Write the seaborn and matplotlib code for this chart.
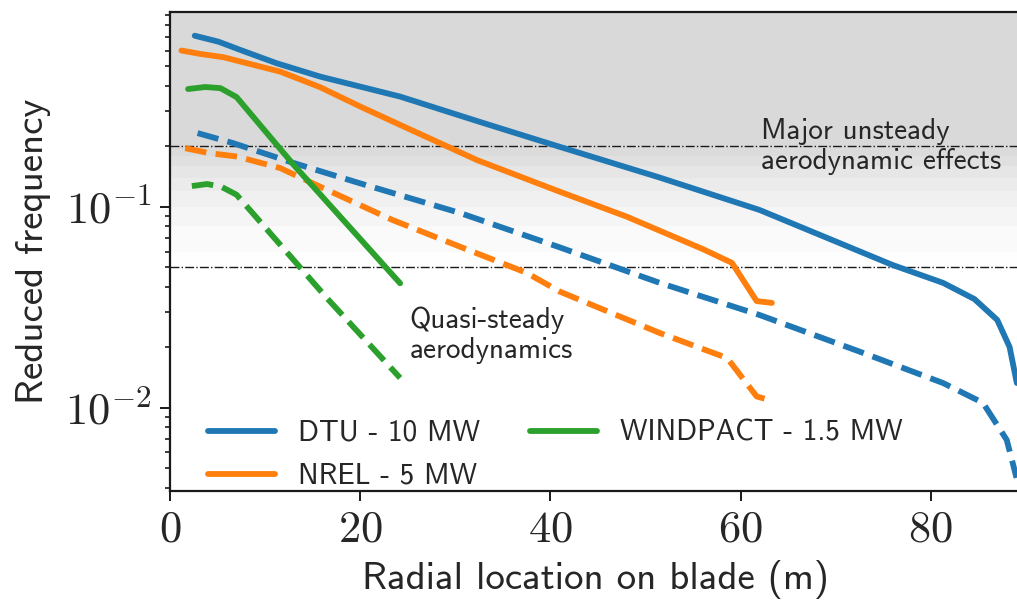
import numpy as np
import matplotlib
matplotlib.use("Agg")
import matplotlib.pyplot as plt
import seaborn as sns
from matplotlib.ticker import FuncFormatter, FixedLocator, LogLocator, NullFormatter

# Radial stations (m) and reduced frequency, solid = case A, dashed = case B
dtu_r = [2.6, 5.1, 7.4, 11.2, 15.8, 24.2, 32.9, 41.0, 51.5, 62.0, 76.0, 81.3, 84.6, 87.0, 88.3, 89.06]
dtu_k = [0.711, 0.664, 0.604, 0.519, 0.445, 0.354, 0.262, 0.199, 0.140, 0.0966, 0.0514, 0.0419, 0.0348, 0.0274, 0.0201, 0.0133]
dtu_r2 = [2.9, 6.6, 12.9, 20.0, 30.5, 41.0, 51.5, 62.0, 72.6, 81.3, 85.5, 88.0, 89.03]
dtu_k2 = [0.233, 0.208, 0.166, 0.131, 0.0933, 0.0629, 0.0419, 0.0290, 0.0190, 0.0133, 0.0106, 0.00693, 0.00449]

nrel_r = [1.2, 3.2, 5.6, 11.6, 15.8, 20.0, 24.2, 32.3, 41.0, 48.1, 56.0, 59.1, 61.7, 63.3]
nrel_k = [0.600, 0.577, 0.556, 0.471, 0.394, 0.316, 0.256, 0.171, 0.119, 0.0892, 0.0618, 0.0527, 0.0340, 0.0333]
nrel_r2 = [1.6, 4.2, 7.1, 11.6, 15.8, 23.4, 30.5, 37.5, 41.0, 51.5, 58.6, 61.7, 62.9]
nrel_k2 = [0.196, 0.185, 0.178, 0.156, 0.126, 0.0861, 0.0634, 0.0470, 0.0379, 0.0236, 0.0177, 0.0114, 0.0110]

wp_r = [1.9, 3.7, 5.3, 7.0, 13.0, 24.2]
wp_k = [0.386, 0.395, 0.390, 0.352, 0.162, 0.0417]
wp_r2 = [2.3, 3.9, 5.4, 7.0, 16.5, 24.2]
wp_k2 = [0.127, 0.130, 0.126, 0.115, 0.0352, 0.0141]

labels = ["DTU - 10 MW", "NREL - 5 MW", "WINDPACT - 1.5 MW"]
colors = ["#1f77b4", "#ff7f0e", "#2ca02c"]

# Thresholds separating the aerodynamic regimes
k_major = 0.2
k_quasi = 0.05
band_edges = [0.05, 0.06, 0.08, 0.10, 0.12, 0.14, 0.16, 0.18, 0.20]

sns.set_theme(style="ticks")
plt.rcParams["font.family"] = ["cmss10", "DejaVu Sans"]
plt.rcParams["mathtext.fontset"] = "cm"
plt.rcParams["axes.unicode_minus"] = False

fig = plt.figure(figsize=(10.17, 6.05), dpi=100)
ax = fig.add_axes([170 / 1017, 114 / 605, 851 / 1017, 479 / 605])

ymin, ymax = 0.00386, 0.933
ax.set_yscale("log")
ax.set_xlim(0, 89.5)
ax.set_ylim(ymin, ymax)

# Shaded regime background: solid grey above the upper threshold, fading bands below
top_grey = 0.85
ax.axhspan(k_major, ymax, color=str(top_grey), lw=0, zorder=0)
for lo, hi in zip(band_edges[:-1], band_edges[1:]):
    mid = 0.5 * (lo + hi)
    g = 1 - (1 - top_grey) * (mid - k_quasi) / (k_major - k_quasi)
    ax.axhspan(lo, hi, color=str(g), lw=0, zorder=0)

ax.axhline(k_major, color="k", lw=1.0, ls="-.", zorder=1)
ax.axhline(k_quasi, color="k", lw=1.0, ls="-.", zorder=1)

lw = 4.2
series = [(dtu_r, dtu_k, dtu_r2, dtu_k2), (nrel_r, nrel_k, nrel_r2, nrel_k2), (wp_r, wp_k, wp_r2, wp_k2)]
for (r1, k1, r2, k2), lab, c in zip(series, labels, colors):
    sns.lineplot(x=r1, y=k1, ax=ax, color=c, lw=lw, label=lab, zorder=3)
    sns.lineplot(x=r2, y=k2, ax=ax, color=c, lw=lw, ls="--", legend=False, zorder=3)

ax.text(62.2, 0.2, "Major unsteady\naerodynamic effects", fontsize=21,
        ha="left", va="center", linespacing=1.15, zorder=4)
ax.text(25.2, 0.0231, "Quasi-steady\naerodynamics", fontsize=21,
        ha="left", va="center", linespacing=1.15, zorder=4)

ax.set_xlabel("Radial location on blade (m)", fontsize=28, labelpad=7)
ax.set_ylabel("Reduced frequency", fontsize=28, labelpad=10)

ax.xaxis.set_major_locator(FixedLocator([0, 20, 40, 60, 80]))
ax.xaxis.set_major_formatter(FuncFormatter(lambda v, p: f"${v:g}$"))
ax.yaxis.set_major_locator(FixedLocator([0.01, 0.1]))
ax.yaxis.set_major_formatter(FuncFormatter(lambda v, p: f"$10^{{{int(round(np.log10(v)))}}}$"))
ax.yaxis.set_minor_locator(LogLocator(base=10, subs=np.arange(2, 10)))
ax.yaxis.set_minor_formatter(NullFormatter())

ax.tick_params(axis="both", which="major", labelsize=32, length=7, width=1.4, color="k", pad=6)
ax.tick_params(axis="y", which="minor", length=3.6, width=1.2, color="k")
ax.tick_params(axis="x", which="minor", length=0)
for s in ax.spines.values():
    s.set_color("k")
    s.set_linewidth(1.6)

ax.legend(loc="lower left", bbox_to_anchor=(0.031, -0.022), ncol=2, frameon=False,
          fontsize=21, handlelength=2.3, handletextpad=0.8, columnspacing=1.7,
          labelspacing=0.55, borderaxespad=0)

fig.savefig("out.png", dpi=100)
